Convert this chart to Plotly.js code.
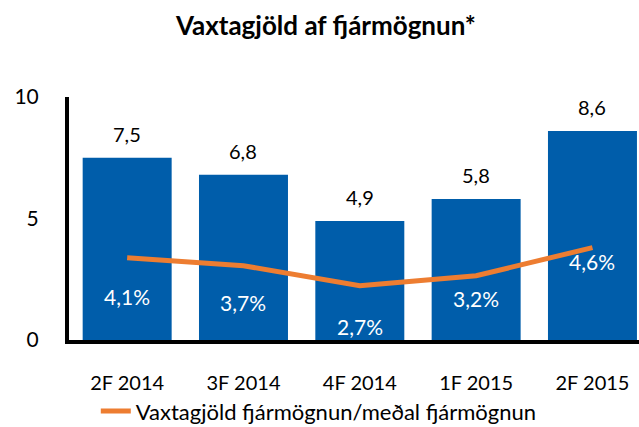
<!DOCTYPE html>
<html>
<head>
<meta charset="utf-8">
<script src="https://cdn.plot.ly/plotly-3.0.1.min.js"></script>
<style>html,body{margin:0;padding:0;background:#fff;}#chart{width:639px;height:427px;}</style>
</head>
<body>
<div id="chart"></div>
<script>
const categories = ['2F 2014', '3F 2014', '4F 2014', '1F 2015', '2F 2015'];
const barValues = [7.5, 6.8, 4.9, 5.8, 8.6];
const ratioValues = [4.1, 3.7, 2.7, 3.2, 4.6];
const lineName = 'Vaxtagjöld fjármögnun/meðal fjármögnun';
const titleText = 'Vaxtagjöld af fjármögnun*';

const fmt = (v, d) => v.toFixed(d).replace('.', ',');
const FONT = 'Lato, "Open Sans", sans-serif';

const bars = {
  type: 'bar', x: categories, y: barValues,
  marker: {color: '#005DAA'},
  showlegend: false, hoverinfo: 'skip'
};
const line = {
  type: 'scatter', mode: 'lines', x: categories, y: ratioValues,
  yaxis: 'y2', name: lineName,
  line: {color: '#ED7D31', width: 5},
  hoverinfo: 'skip'
};

const pctShift = [-39, -37, -41, -23, -14];
const annotations = [];
barValues.forEach((v, i) => {
  annotations.push({
    x: categories[i], y: v, xref: 'x', yref: 'y',
    text: fmt(v, 1), showarrow: false, yanchor: 'middle', yshift: 24,
    font: {family: FONT, size: 20, color: '#000'}
  });
});
ratioValues.forEach((v, i) => {
  annotations.push({
    x: categories[i], y: v, xref: 'x', yref: 'y2',
    text: fmt(v, 1) + '%', showarrow: false, yanchor: 'middle', yshift: pctShift[i],
    font: {family: FONT, size: 21, color: '#fff'}
  });
});

const layout = {
  width: 639, height: 427,
  margin: {l: 69, r: 0, t: 97, b: 87, autoexpand: false},
  paper_bgcolor: '#fff', plot_bgcolor: '#fff',
  font: {family: FONT, size: 20, color: '#000'},
  title: {text: '<b>' + titleText + '</b>', x: 0.51, xanchor: 'center', y: 0.94, yanchor: 'middle',
          font: {family: FONT, size: 26, color: '#000'}},
  bargap: 0.235,
  xaxis: {
    type: 'category', range: [-0.5, 4.4], showline: true, linecolor: '#000', linewidth: 4,
    ticks: '', showgrid: false, zeroline: false, ticklabelstandoff: 22, automargin: false,
    tickfont: {family: FONT, size: 20, color: '#000'}
  },
  yaxis: {
    range: [0, 10], tickvals: [0, 5, 10], showline: true, linecolor: '#000', linewidth: 4,
    ticks: '', showgrid: false, zeroline: false, ticklabelstandoff: 22, automargin: false,
    tickfont: {family: FONT, size: 21, color: '#000'}
  },
  yaxis2: {
    overlaying: 'y', side: 'right', range: [0, 12.1], visible: false, showgrid: false
  },
  showlegend: true,
  legend: {orientation: 'h', x: 0.047, xanchor: 'left', y: -0.293, yanchor: 'middle',
           font: {family: FONT, size: 22, color: '#000'}, bgcolor: 'rgba(0,0,0,0)'},
  annotations: annotations
};

Plotly.newPlot('chart', [bars, line], layout, {displayModeBar: false, staticPlot: true});
</script>
</body>
</html>
